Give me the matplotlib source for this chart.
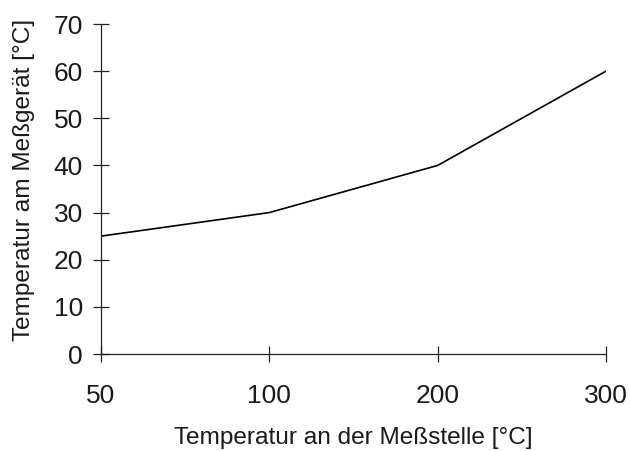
import matplotlib
matplotlib.use("Agg")
import matplotlib.pyplot as plt

categories = ["50", "100", "200", "300"]
values = [25, 30, 40, 60]
yticks = [0, 10, 20, 30, 40, 50, 60, 70]

plt.rcParams['font.family'] = ['Liberation Sans', 'DejaVu Sans']

fig = plt.figure(figsize=(6.3, 4.51), dpi=100)
ax = fig.add_axes([101/630, 1-354/451, (606-101)/630, (354-24)/451])
x = list(range(len(categories)))
ax.plot(x, values, color='black', linewidth=1.2)
ax.set_xlim(0, len(categories)-1)
ax.set_ylim(0, 70)
ax.set_xticks(x)
ax.set_xticklabels(categories)
ax.set_yticks(yticks)
for s in ['top', 'right']:
    ax.spines[s].set_visible(False)
for s in ['left', 'bottom']:
    ax.spines[s].set_linewidth(0.9)
    ax.spines[s].set_color('#222222')
ax.tick_params(direction='inout', length=12, width=0.9, color='#222222',
               labelsize=19, labelcolor='#1a1a1a')
ax.tick_params(axis='x', pad=15.5)
ax.tick_params(axis='y', pad=7)
ax.set_xlabel("Temperatur an der Meßstelle [°C]", fontsize=17.6, color='#1a1a1a')
ax.set_ylabel("Temperatur am Meßgerät [°C]", fontsize=17.6, color='#1a1a1a')
ax.xaxis.label.set_va('center')
ax.yaxis.label.set_va('center')
ax.xaxis.set_label_coords(0.5, (354-438)/330)
ax.yaxis.set_label_coords((24-101)/505, (354-180)/330)
fig.savefig("out.png", dpi=100)
